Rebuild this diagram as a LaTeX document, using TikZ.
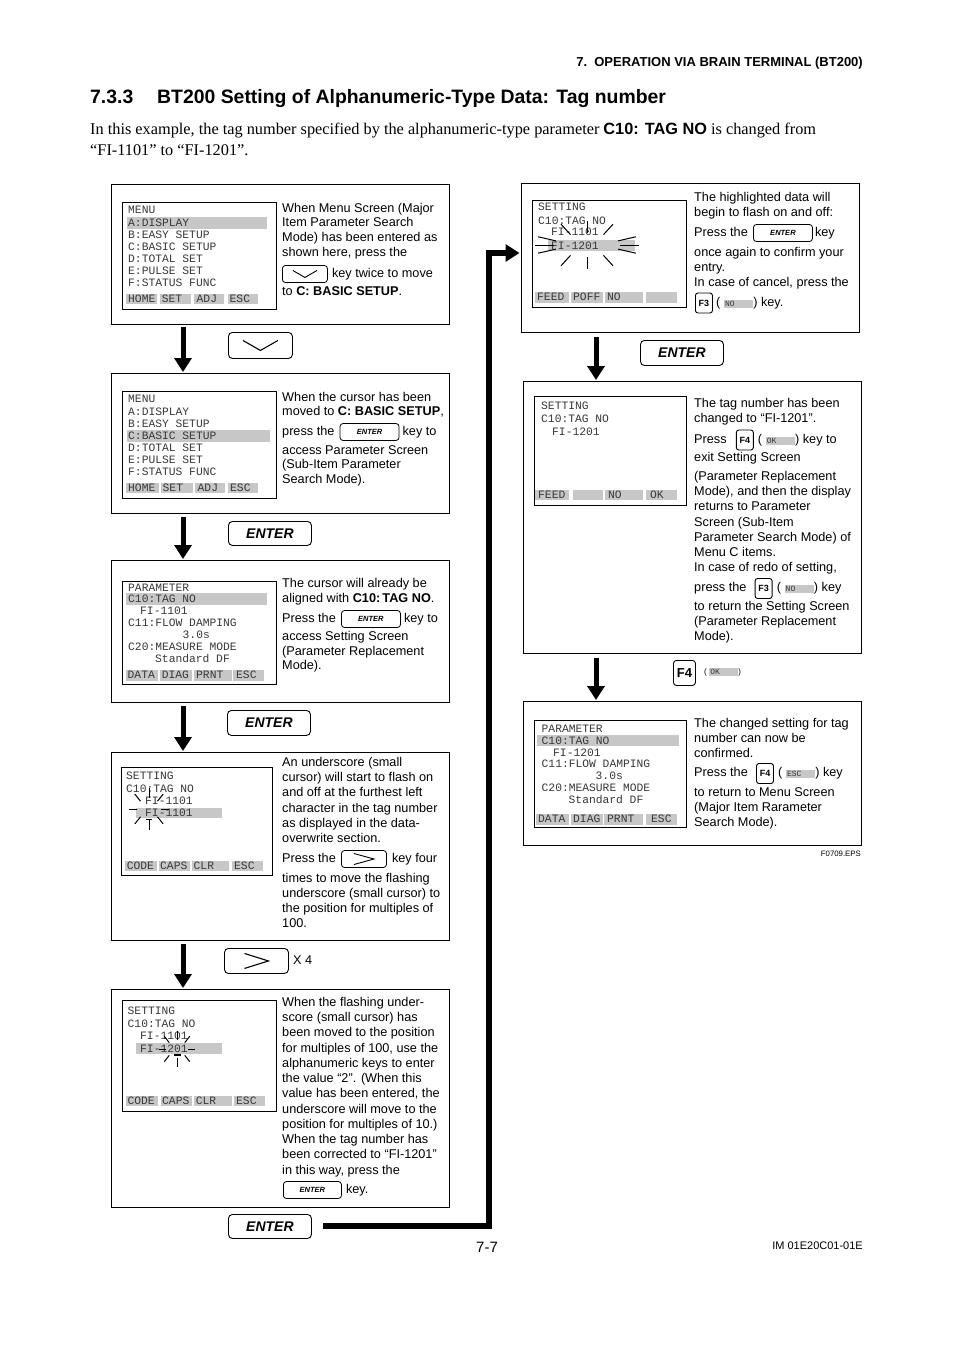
\documentclass[tikz,border=0pt]{standalone}
\usepackage{fontspec}
\setmainfont{Liberation Sans}
\newfontfamily\serifrm{Liberation Serif}
\newfontfamily\lcdfont{Liberation Mono}
\usetikzlibrary{arrows.meta,positioning}
\definecolor{hl}{gray}{0.78}
\definecolor{lcdtxt}{gray}{0.22}
\newcommand\glab[1]{{\setlength\fboxsep{1.2pt}\colorbox{hl}{\makebox[27pt][l]{\lcdfont\fontsize{8}{8}\selectfont\color{lcdtxt}#1}}}}
\newcommand\flashrays[7]{\foreach \ang in {#7} \draw[ray] ({#1+#3*cos(\ang)},{#2+#4*sin(\ang)}) -- ({#1+#5*cos(\ang)},{#2+#6*sin(\ang)});}
\begin{document}
\begin{tikzpicture}[x=1pt,y=-1pt,
 txt/.style={font=\fontsize{12.7}{15}\selectfont, anchor=west, inner sep=0pt, text height=9pt, text depth=2.5pt},
 lcd/.style={font=\lcdfont\fontsize{11.3}{12}\selectfont, text=lcdtxt, anchor=west, inner sep=0pt, text height=7pt, text depth=0pt},
 outerbox/.style={draw, line width=1.2pt, inner sep=0pt, anchor=north west},
 screen/.style={draw, line width=0.9pt, inner sep=0pt, anchor=north west},
 keybig/.style={draw, rounded corners=4pt, line width=0.9pt, inner sep=0pt, anchor=north west, font=\fontsize{14}{14}\selectfont\bfseries\itshape},
 keysm/.style={draw, rounded corners=3pt, line width=0.8pt, inner sep=0pt, font=\fontsize{7.5}{8}\selectfont\bfseries\itshape},
 fkey/.style={draw, rounded corners=2.5pt, line width=0.9pt, inner sep=0pt, minimum width=17pt, minimum height=20pt, font=\fontsize{9}{9}\selectfont\bfseries},
 glyph/.style={line width=1.1pt},
 ray/.style={line width=1pt},
 flow/.style={line width=5pt, -{Triangle[width=17pt,length=14pt]}},
]
\useasboundingbox (0,0) rectangle (954,1351);
\fill[white] (0,0) rectangle (954,1351);

% ---------- header ----------
\node[anchor=base east, inner sep=0pt, font=\bfseries\fontsize{13}{14}\selectfont] (hdr) at (863,66.5) {7.\ \ OPERATION VIA BRAIN TERMINAL (BT200)};
\node[anchor=base west, inner sep=0pt, font=\bfseries\fontsize{19.4}{22}\selectfont] (ttlnum) at (90,104) {7.3.3};
\node[anchor=base west, inner sep=0pt, font=\bfseries\fontsize{19.4}{22}\selectfont] (ttl) at (157,104) {BT200 Setting of Alphanumeric-Type Data: Tag number};
\node[anchor=base west, inner sep=0pt, font=\serifrm\fontsize{16.3}{20}\selectfont] (intro1) at (90,135) {In this example, the tag number specified by the alphanumeric-type parameter {\rmfamily\bfseries C10: TAG NO} is changed from};
\node[anchor=base west, inner sep=0pt, font=\serifrm\fontsize{16.3}{20}\selectfont] (intro2) at (90,156) {“FI-1101” to “FI-1201”.};

% ---------- outer boxes ----------
\node[outerbox, minimum width=338pt, minimum height=140pt] (B1) at (111,184) {};
\node[outerbox, minimum width=338pt, minimum height=140pt] (B2) at (111,373) {};
\node[outerbox, minimum width=338pt, minimum height=142pt] (B3) at (111,560) {};
\node[outerbox, minimum width=338pt, minimum height=188pt] (B4) at (111,752) {};
\node[outerbox, minimum width=338pt, minimum height=218pt] (B5) at (111,989) {};
\node[outerbox, minimum width=338pt, minimum height=149pt] (R1) at (521,183) {};
\node[outerbox, minimum width=338pt, minimum height=272pt] (R2) at (523,381) {};
\node[outerbox, minimum width=338pt, minimum height=144pt] (R3) at (523,701) {};

% ---------- screen highlights ----------
\fill[hl] (126.7,217) rectangle (267,229);
\fill[hl] (127,430) rectangle (270,442);
\fill[hl] (125.7,593) rectangle (267,605);
\fill[hl] (136,808) rectangle (221.7,818);
\fill[hl] (136,1043) rectangle (221.7,1054);
\fill[hl] (548,240) rectangle (635,251);
\fill[hl] (537,735) rectangle (679,746);

% ---------- screens ----------
\node[screen, minimum width=154pt, minimum height=107pt] (S1) at (122,202) {};
\node[screen, minimum width=154pt, minimum height=107pt] (S2) at (122,391) {};
\node[screen, minimum width=154pt, minimum height=103pt] (S3) at (122,581) {};
\node[screen, minimum width=151pt, minimum height=108pt] (S4) at (121,767) {};
\node[screen, minimum width=154pt, minimum height=111pt] (S5) at (122,1000) {};
\node[screen, minimum width=154pt, minimum height=107pt] (SR1) at (532,200) {};
\node[screen, minimum width=152pt, minimum height=109pt] (SR2) at (534,396) {};
\node[screen, minimum width=152pt, minimum height=107pt] (SR3) at (534,720) {};

% screen 1
\foreach \xx/\yy/\ss [count=\i] in {128/210/MENU,128/223/A:DISPLAY,128/235/B:EASY SETUP,128/247/C:BASIC SETUP,128/259/D:TOTAL SET,128/271/E:PULSE SET,128/283/F:STATUS FUNC}
  \node[lcd] (s1l\i) at (\xx,\yy) {\ss};
\foreach \xa/\xb/\xt/\ss [count=\i] in {125.7/157/128/HOME,160/191/161.7/SET,194/224/196.5/ADJ,227.7/258/229.5/ESC}
  {\fill[hl] (\xa,293.5) rectangle (\xb,303.5); \node[lcd] (s1k\i) at (\xt,298.5) {\ss};}
% screen 2
\foreach \xx/\yy/\ss [count=\i] in {128/399/MENU,128/411.5/A:DISPLAY,128/423.5/B:EASY SETUP,128/436/C:BASIC SETUP,128/448/D:TOTAL SET,128/460/E:PULSE SET,128/472/F:STATUS FUNC}
  \node[lcd] (s2l\i) at (\xx,\yy) {\ss};
\foreach \xa/\xb/\xt/\ss [count=\i] in {125.7/159/128/HOME,161/192.7/162.5/SET,195/225/197.5/ADJ,227.7/258/230/ESC}
  {\fill[hl] (\xa,482.5) rectangle (\xb,492.5); \node[lcd] (s2k\i) at (\xt,487.5) {\ss};}
% screen 3
\foreach \xx/\yy/\ss [count=\i] in {128/587.5/PARAMETER,128/599/C10:TAG NO,140/611/FI-1101,128/623/C11:FLOW DAMPING,182.5/635/3.0s,128/647/C20:MEASURE MODE,155/659/Standard DF}
  \node[lcd] (s3l\i) at (\xx,\yy) {\ss};
\foreach \xa/\xb/\xt/\ss [count=\i] in {125.7/158/127.5/DATA,160/191.7/161.7/DIAG,194/231.7/196/PRNT,233/264/236/ESC}
  {\fill[hl] (\xa,669.5) rectangle (\xb,680.5); \node[lcd] (s3k\i) at (\xt,675) {\ss};}
% screen 4
\foreach \xx/\yy/\ss [count=\i] in {126/776/SETTING,126/788.5/C10:TAG NO,145/801/FI-1101,145/813/FI-1101}
  \node[lcd] (s4l\i) at (\xx,\yy) {\ss};
\foreach \xa/\xb/\xt/\ss [count=\i] in {125/157/126.7/CODE,159/190/160/CAPS,192/229/193.5/CLR,232/263/234/ESC}
  {\fill[hl] (\xa,861) rectangle (\xb,870.5); \node[lcd] (s4k\i) at (\xt,865.7) {\ss};}
\flashrays{149}{809}{12}{11}{20}{21}{0,45,90,135,180,225,270,315}
\draw[line width=1.2pt] (145.5,819.5) -- (151.5,819.5);
% screen 5
\foreach \xx/\yy/\ss [count=\i] in {127.5/1011/SETTING,127.5/1024/C10:TAG NO,140/1036/FI-1101,140/1048.5/FI-1201}
  \node[lcd] (s5l\i) at (\xx,\yy) {\ss};
\foreach \xa/\xb/\xt/\ss [count=\i] in {125.7/158/127.3/CODE,160.7/191.7/162/CAPS,194/231.7/195.7/CLR,234/265/236/ESC}
  {\fill[hl] (\xa,1096) rectangle (\xb,1106); \node[lcd] (s5k\i) at (\xt,1101) {\ss};}
\flashrays{177}{1049}{11}{9}{18}{18}{0,45,90,135,180,225,270,315}
\draw[line width=1.2pt] (174,1055) -- (180.5,1055);
% screen R1
\foreach \xx/\yy/\ss [count=\i] in {538/207.5/SETTING,538/220.5/C10:TAG NO,551/232/FI-1101,551/245.5/FI-1201}
  \node[lcd] (r1l\i) at (\xx,\yy) {\ss};
\foreach \xa/\xb/\xt/\ss [count=\i] in {535/569/537/FEED,571/603/573/POFF,605/643/607/NO,646/677/648/{}}
  {\fill[hl] (\xa,291.5) rectangle (\xb,302.5); \node[lcd] (r1k\i) at (\xt,297) {\ss};}
\flashrays{587}{245}{33}{12}{52}{24}{0,20,60,90,120,160,180,200,240,270,300,340}
% screen R2
\foreach \xx/\yy/\ss [count=\i] in {541/405.5/SETTING,541/418.5/C10:TAG NO,552/431.5/FI-1201}
  \node[lcd] (r2l\i) at (\xx,\yy) {\ss};
\foreach \xa/\xb/\xt/\ss [count=\i] in {535/569.3/538/FEED,572.7/603.3/574/{},605/642.7/608/NO,646/677.3/650/OK}
  {\fill[hl] (\xa,490) rectangle (\xb,500); \node[lcd] (r2k\i) at (\xt,495) {\ss};}
% screen R3
\foreach \xx/\yy/\ss [count=\i] in {541.5/728.5/PARAMETER,541.5/740.5/C10:TAG NO,553/752.5/FI-1201,541.5/764/C11:FLOW DAMPING,595.5/776/3.0s,541.5/788/C20:MEASURE MODE,568.5/799.5/Standard DF}
  \node[lcd] (r3l\i) at (\xx,\yy) {\ss};
\foreach \xa/\xb/\xt/\ss [count=\i] in {535.7/569/538/DATA,570.7/602.7/573/DIAG,604/642.7/607/PRNT,646/677/651/ESC}
  {\fill[hl] (\xa,813.5) rectangle (\xb,824.5); \node[lcd] (r3k\i) at (\xt,819) {\ss};}

% ---------- description texts ----------
\foreach \yy/\ss [count=\i] in {209/{When Menu Screen (Major},223.5/{Item Parameter Search},238.5/{Mode) has been entered as},253/{shown here, press the},292.5/{to \textbf{C: BASIC SETUP}.}}
  \node[txt] (b1t\i) at (282,\yy) {\ss};
\node[keysm, anchor=west, minimum width=45pt, minimum height=17pt] (kb1) at (282,274) {};
\draw[glyph, line width=0.9pt] (kb1.center) ++(-12,-3.5) -- ++(12,7) -- ++(12,-7);
\node[txt, right=4pt of kb1] (b1k) {key twice to move};

\foreach \yy/\ss [count=\i] in {398/{When the cursor has been},412.5/{moved to \textbf{C: BASIC SETUP},},451/{access Parameter Screen},465.5/{(Sub-Item Parameter},480/{Search Mode).}}
  \node[txt] (b2t\i) at (282,\yy) {\ss};
\node[txt] (b2p) at (282,432) {press the};
\node[keysm, right=5pt of b2p, minimum width=59pt, minimum height=17pt] (kb2) {ENTER};
\node[txt, right=3pt of kb2] (b2k) {key to};

\foreach \yy/\ss [count=\i] in {584/{The cursor will already be},599/{aligned with \textbf{C10:\,TAG NO}.},637.5/{access Setting Screen},652/{(Parameter Replacement},666.5/{Mode).}}
  \node[txt] (b3t\i) at (282,\yy) {\ss};
\node[txt] (b3p) at (282,619) {Press the};
\node[keysm, right=5pt of b3p, minimum width=59pt, minimum height=17pt] (kb3) {ENTER};
\node[txt, right=3pt of kb3] (b3k) {key to};

\foreach \yy/\ss [count=\i] in {763/{An underscore (small},778.5/{cursor) will start to flash on},793.5/{and off at the furthest left},809/{character in the tag number},824/{as displayed in the data-},839.5/{overwrite section.},879/{times to move the flashing},894/{underscore (small cursor) to},909.5/{the position for multiples of},924.5/{100.}}
  \node[txt] (b4t\i) at (282,\yy) {\ss};
\node[txt] (b4p) at (282,859) {Press the};
\node[keysm, right=5pt of b4p, minimum width=45pt, minimum height=17pt] (kb4) {};
\draw[glyph, line width=0.9pt] (kb4.center) ++(-10,-5.5) -- ++(20,5.5) -- ++(-20,5.5);
\node[txt, right=5pt of kb4] (b4k) {key four};

\foreach \yy/\ss [count=\i] in {1003.5/{When the flashing under-},1018.5/{score (small cursor) has},1033.5/{been moved to the position},1049/{for multiples of 100, use the},1064/{alphanumeric keys to enter},1079.5/{the value “2”. (When this},1094.5/{value has been entered, the},1110/{underscore will move to the},1125/{position for multiples of 10.)},1140.5/{When the tag number has},1155.5/{been corrected to “FI-1201”},1171/{in this way, press the}}
  \node[txt] (b5t\i) at (282,\yy) {\ss};
\node[keysm, anchor=west, minimum width=58pt, minimum height=17pt] (kb5) at (283,1190) {ENTER};
\node[txt, right=4pt of kb5] (b5k) {key.};

\foreach \yy/\ss [count=\i] in {198.5/{The highlighted data will},213.5/{begin to flash on and off:},253.5/{once again to confirm your},268.5/{entry.},283.5/{In case of cancel, press the}}
  \node[txt] (r1t\i) at (694,\yy) {\ss};
\node[txt] (r1p) at (694,233) {Press the};
\node[keysm, right=5pt of r1p, minimum width=59pt, minimum height=17pt] (kr1) {ENTER};
\node[txt, right=2pt of kr1] (r1k) {key};
\node[fkey, anchor=west] (fr1) at (695,303) {F3};
\node[txt, right=3pt of fr1] (r1f) {( \glab{NO}) key.};

\foreach \yy/\ss [count=\i] in {404.5/{The tag number has been},419.5/{changed to “FI-1201”.},458/{exit Setting Screen},477.5/{(Parameter Replacement},492.5/{Mode), and then the display},507.5/{returns to Parameter},523/{Screen (Sub-Item},538/{Parameter Search Mode) of},553/{Menu C items.},568.5/{In case of redo of setting,},607.5/{to return the Setting Screen},622.5/{(Parameter Replacement},637.5/{Mode).}}
  \node[txt] (r2t\i) at (694,\yy) {\ss};
\node[txt] (r2p) at (694,440) {Press};
\node[fkey, right=9pt of r2p] (fr2) {F4};
\node[txt, right=4pt of fr2] (r2f) {( \glab{OK}) key to};
\node[txt] (r2q) at (694,588.5) {press the};
\node[fkey, right=8pt of r2q] (fr3) {F3};
\node[txt, right=4pt of fr3] (r2g) {( \glab{NO}) key};

\foreach \yy/\ss [count=\i] in {724/{The changed setting for tag},739/{number can now be},754/{confirmed.},793/{to return to Menu Screen},808/{(Major Item Rarameter},823/{Search Mode).}}
  \node[txt] (r3t\i) at (694,\yy) {\ss};
\node[txt] (r3p) at (694,773.5) {Press the};
\node[fkey, right=8pt of r3p] (fr4) {F4};
\node[txt, right=4pt of fr4] (r3f) {( \glab{ESC}) key};

% ---------- keys between boxes ----------
\node[keybig, minimum width=64pt, minimum height=26pt] (kd1) at (228,332) {};
\draw[glyph] (kd1.center) ++(-17.5,-5) -- ++(17.5,10) -- ++(17.5,-10);
\node[keybig, minimum width=83pt, minimum height=24pt] (ke2) at (228,521) {ENTER};
\node[keybig, minimum width=83pt, minimum height=25pt] (ke3) at (227,710) {ENTER};
\node[keybig, minimum width=64pt, minimum height=25pt] (kg4) at (224,948) {};
\draw[glyph] (kg4.center) ++(-12,-7.5) -- ++(24,7.5) -- ++(-24,7.5);
\node[txt, right=4pt of kg4] (x4) {X 4};
\node[keybig, minimum width=83pt, minimum height=24pt] (ke5) at (228,1214) {ENTER};
\node[keybig, minimum width=83pt, minimum height=25pt] (ke6) at (640,340) {ENTER};
\node[keybig, rounded corners=3pt, minimum width=22pt, minimum height=25pt, font=\fontsize{13}{13}\selectfont\bfseries] (kf7) at (673,660) {F4};
\node[anchor=west, inner sep=0pt, font=\fontsize{8}{8}\selectfont] (okl) at (704,672.5) {( \glab{OK})};

% ---------- flow arrows ----------
\draw[flow] ([xshift=72pt,yshift=-2pt]B1.south west) -- ([xshift=72pt,yshift=1pt]B2.north west);
\draw[flow] ([xshift=72pt,yshift=-3pt]B2.south west) -- ([xshift=72pt,yshift=1pt]B3.north west);
\draw[flow] ([xshift=72pt,yshift=-3pt]B3.south west) -- ([xshift=72pt,yshift=1pt]B4.north west);
\draw[flow] ([xshift=72pt,yshift=-3pt]B4.south west) -- ([xshift=72pt,yshift=1pt]B5.north west);
\draw[flow] ([xshift=75pt,yshift=-4pt]R1.south west) -- ([xshift=73pt,yshift=1pt]R2.north west);
\draw[flow] ([xshift=73pt,yshift=-4pt]R2.south west) -- ([xshift=73pt,yshift=1pt]R3.north west);
\coordinate (turn) at (489,253);
\draw[flow, line width=6pt, shorten >=1.5pt] ([xshift=11pt]ke5.east) -| (turn) -- (R1.west |- turn);

% ---------- footer ----------
\node[anchor=base east, inner sep=0pt, font=\fontsize{7.8}{8}\selectfont] (eps) at (861,856) {F0709.EPS};
\node[anchor=base, inner sep=0pt, font=\fontsize{15}{16}\selectfont] (pg) at (487,1252.5) {7-7};
\node[anchor=base east, inner sep=0pt, font=\fontsize{11}{12}\selectfont] (imno) at (863,1249) {IM 01E20C01-01E};
\end{tikzpicture}
\end{document}
